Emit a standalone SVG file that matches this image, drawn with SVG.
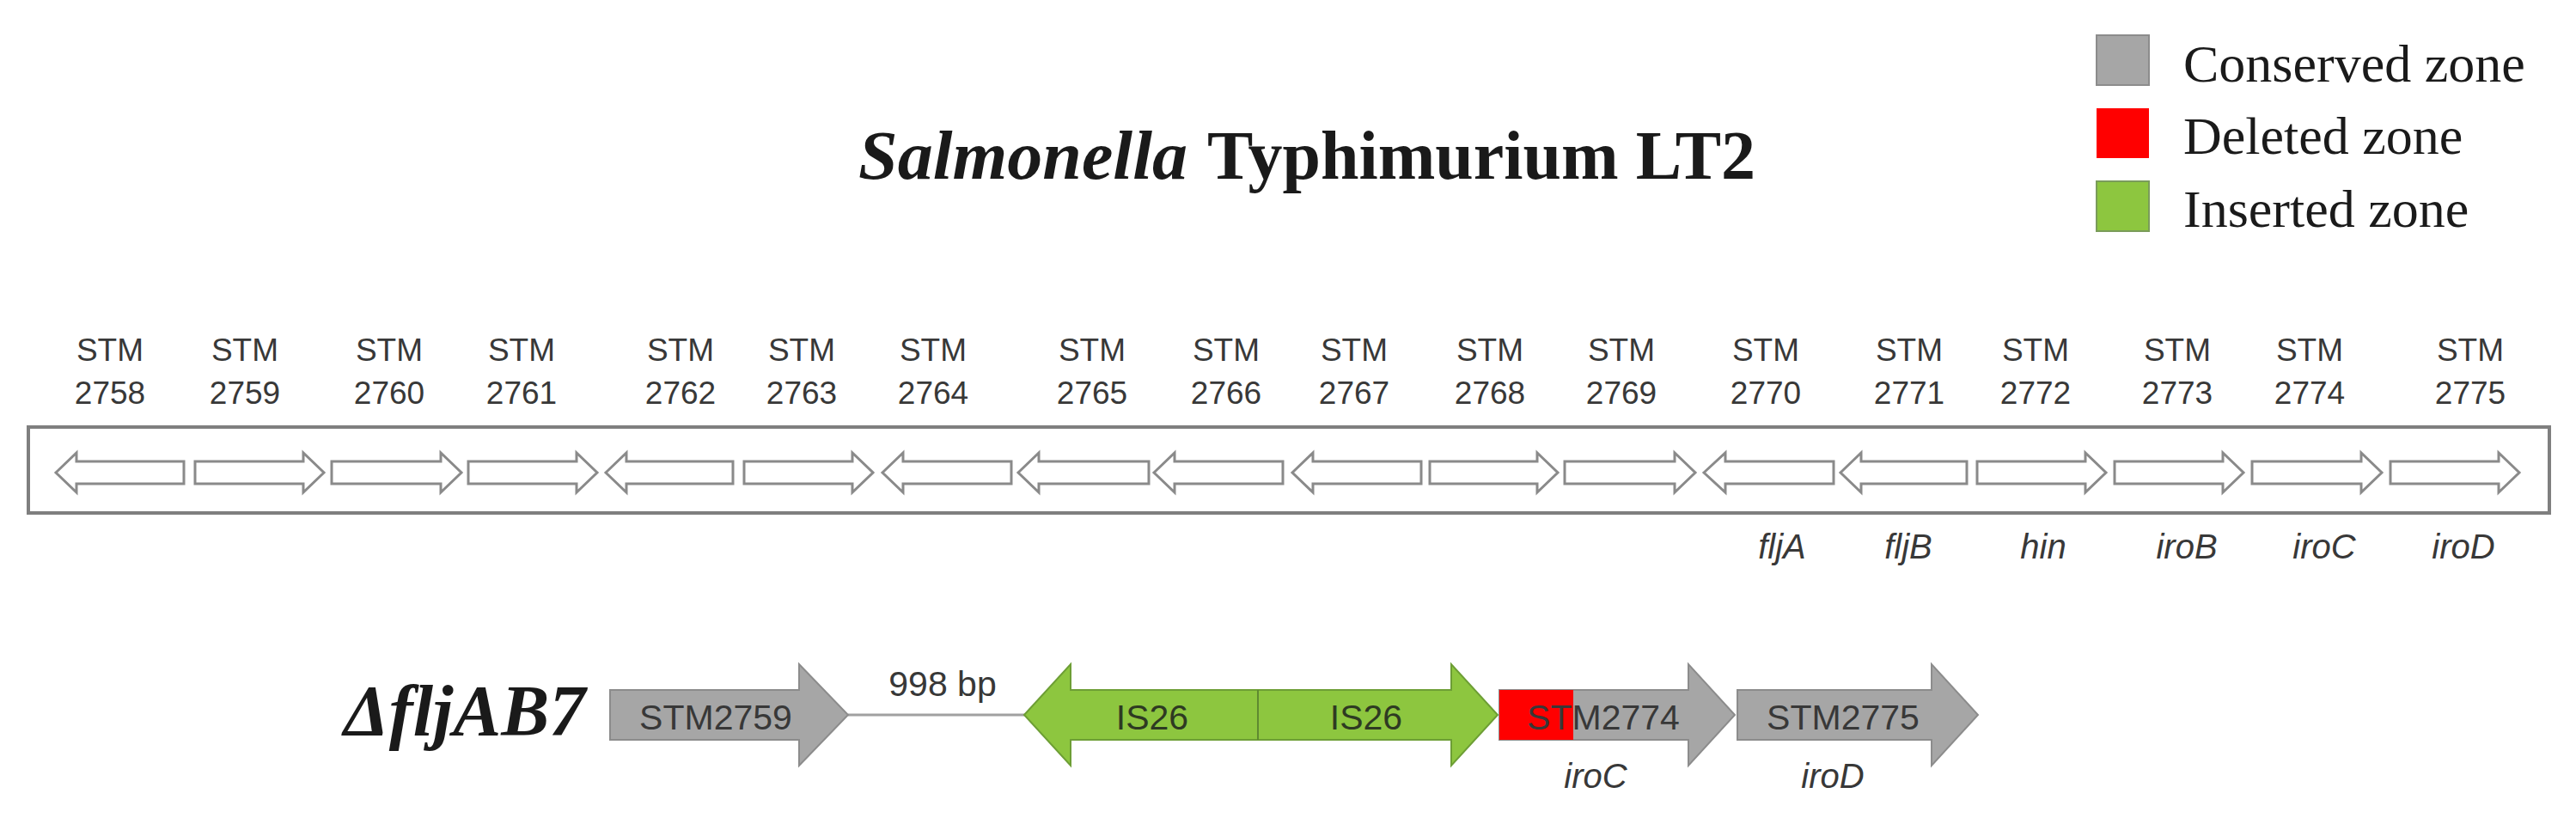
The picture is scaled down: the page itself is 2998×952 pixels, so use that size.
<svg xmlns="http://www.w3.org/2000/svg" width="2998" height="952" viewBox="0 0 2998 952">
<style>
.serif{font-family:"Liberation Serif","Times New Roman",serif;fill:#1a1a1a}
.sans{font-family:"Liberation Sans",Arial,sans-serif;fill:#383838}
.lbl{font-size:37px;text-anchor:middle}
.gene{font-size:40px;text-anchor:middle;font-style:italic}
.big{font-size:41px;text-anchor:middle}
.ta{fill:#fff;stroke:#8a8a8a;stroke-width:3}
.grey{fill:#a6a6a6;stroke:#8c8c8c;stroke-width:2}
.green{fill:#8dc63f;stroke:#6d9e35;stroke-width:2}
</style>
<rect width="2998" height="952" fill="#fff"/>

<g id="legend">
  <rect x="2440" y="41" width="61" height="58" fill="#a6a6a6" stroke="#8c8c8c" stroke-width="2"/>
  <rect x="2440" y="126" width="61" height="58" fill="#ff0000"/>
  <rect x="2440" y="211" width="61" height="58" fill="#8dc63f" stroke="#7a9c5a" stroke-width="2"/>
  <text class="serif" x="2541" y="95" font-size="62">Conserved zone</text>
  <text class="serif" x="2541" y="179" font-size="62">Deleted zone</text>
  <text class="serif" x="2541" y="264" font-size="62">Inserted zone</text>
</g>

<g id="title">
  <text class="serif" y="208" font-size="80" font-weight="bold"><tspan x="999" font-style="italic" textLength="383" lengthAdjust="spacingAndGlyphs">Salmonella</tspan><tspan x="1405">Typhimurium LT2</tspan></text>
</g>

<g id="reference-labels" class="sans lbl">
  <text x="128" y="420">STM</text><text x="128" y="470">2758</text>
  <text x="285" y="420">STM</text><text x="285" y="470">2759</text>
  <text x="453" y="420">STM</text><text x="453" y="470">2760</text>
  <text x="607" y="420">STM</text><text x="607" y="470">2761</text>
  <text x="792" y="420">STM</text><text x="792" y="470">2762</text>
  <text x="933" y="420">STM</text><text x="933" y="470">2763</text>
  <text x="1086" y="420">STM</text><text x="1086" y="470">2764</text>
  <text x="1271" y="420">STM</text><text x="1271" y="470">2765</text>
  <text x="1427" y="420">STM</text><text x="1427" y="470">2766</text>
  <text x="1576" y="420">STM</text><text x="1576" y="470">2767</text>
  <text x="1734" y="420">STM</text><text x="1734" y="470">2768</text>
  <text x="1887" y="420">STM</text><text x="1887" y="470">2769</text>
  <text x="2055" y="420">STM</text><text x="2055" y="470">2770</text>
  <text x="2222" y="420">STM</text><text x="2222" y="470">2771</text>
  <text x="2369" y="420">STM</text><text x="2369" y="470">2772</text>
  <text x="2534" y="420">STM</text><text x="2534" y="470">2773</text>
  <text x="2688" y="420">STM</text><text x="2688" y="470">2774</text>
  <text x="2875" y="420">STM</text><text x="2875" y="470">2775</text>
</g>

<g id="reference-genome">
  <rect x="33" y="497" width="2934" height="100" fill="#fff" stroke="#7f7f7f" stroke-width="4"/>
  <polygon class="ta" points="65,550 89,527 89,537 214,537 214,563 89,563 89,573"/>
  <polygon class="ta" points="227,537 353,537 353,527 377,550 353,573 353,563 227,563"/>
  <polygon class="ta" points="386,537 513,537 513,527 537,550 513,573 513,563 386,563"/>
  <polygon class="ta" points="545,537 671,537 671,527 695,550 671,573 671,563 545,563"/>
  <polygon class="ta" points="705,550 729,527 729,537 853,537 853,563 729,563 729,573"/>
  <polygon class="ta" points="866,537 992,537 992,527 1016,550 992,573 992,563 866,563"/>
  <polygon class="ta" points="1027,550 1051,527 1051,537 1177,537 1177,563 1051,563 1051,573"/>
  <polygon class="ta" points="1185,550 1209,527 1209,537 1337,537 1337,563 1209,563 1209,573"/>
  <polygon class="ta" points="1343,550 1367,527 1367,537 1493,537 1493,563 1367,563 1367,573"/>
  <polygon class="ta" points="1504,550 1528,527 1528,537 1654,537 1654,563 1528,563 1528,573"/>
  <polygon class="ta" points="1664,537 1789,537 1789,527 1813,550 1789,573 1789,563 1664,563"/>
  <polygon class="ta" points="1821,537 1949,537 1949,527 1973,550 1949,573 1949,563 1821,563"/>
  <polygon class="ta" points="1983,550 2008,527 2008,537 2134,537 2134,563 2008,563 2008,573"/>
  <polygon class="ta" points="2142,550 2166,527 2166,537 2289,537 2289,563 2166,563 2166,573"/>
  <polygon class="ta" points="2301,537 2427,537 2427,527 2451,550 2427,573 2427,563 2301,563"/>
  <polygon class="ta" points="2461,537 2587,537 2587,527 2611,550 2587,573 2587,563 2461,563"/>
  <polygon class="ta" points="2621,537 2748,537 2748,527 2772,550 2748,573 2748,563 2621,563"/>
  <polygon class="ta" points="2782,537 2908,537 2908,527 2932,550 2908,573 2908,563 2782,563"/>
</g>

<g id="gene-names" class="sans gene">
  <text x="2074" y="650">fljA</text>
  <text x="2221" y="650">fljB</text>
  <text x="2378" y="650">hin</text>
  <text x="2545" y="650">iroB</text>
  <text x="2705" y="650">iroC</text>
  <text x="2867" y="650">iroD</text>
</g>

<g id="mutant-label">
  <text class="serif" x="400" y="856" font-size="84" font-weight="bold" font-style="italic">ΔfljAB7</text>
</g>

<g id="connectors">
  <line x1="987" y1="832" x2="1193" y2="832" stroke="#a0a0a0" stroke-width="3"/>
  <text class="sans big" x="1097" y="810" font-size="40">998 bp</text>
</g>

<g id="stm2759">
  <polygon class="grey" points="710,803 930,803 930,773 987,832 930,891 930,861 710,861"/>
  <text class="sans big" x="833" y="849">STM2759</text>
</g>

<g id="is26">
  <polygon class="green" points="1192,832 1246,773 1246,803 1689,803 1689,773 1743,832 1689,891 1689,861 1246,861 1246,891"/>
  <line x1="1464" y1="803" x2="1464" y2="861" stroke="#5f8a30" stroke-width="2"/>
  <text class="sans big" x="1341" y="849" style="fill:#2e3a22">IS26</text>
  <text class="sans big" x="1590" y="849" style="fill:#2e3a22">IS26</text>
</g>

<g id="stm2774">
  <polygon class="grey" points="1745,803 1965,803 1965,773 2019,832 1965,891 1965,861 1745,861"/>
  <rect x="1745" y="803" width="86" height="58" fill="#ff0000"/>
  <text class="sans big" x="1866" y="849">STM2774</text>
  <text class="sans gene" x="1857" y="917" font-size="42">iroC</text>
</g>

<g id="stm2775">
  <polygon class="grey" points="2022,803 2248,803 2248,773 2302,832 2248,891 2248,861 2022,861"/>
  <text class="sans big" x="2145" y="849">STM2775</text>
  <text class="sans gene" x="2133" y="917" font-size="42">iroD</text>
</g>
</svg>
